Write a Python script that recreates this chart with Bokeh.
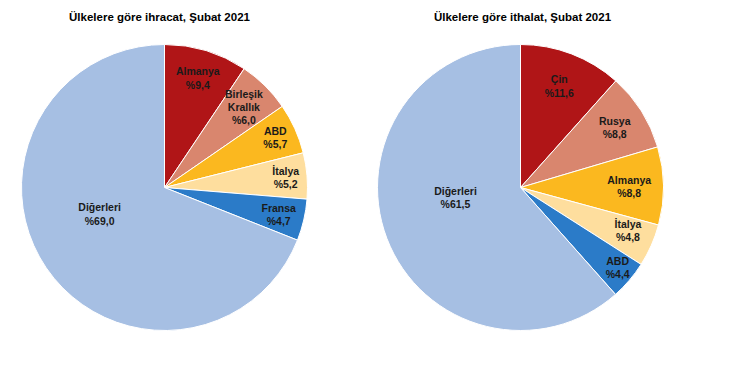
import math
from bokeh.plotting import figure
from bokeh.models import ColumnDataSource, Range1d
from bokeh.core.properties import value
from bokeh.embed import file_html
from bokeh.resources import INLINE

# ---- data ----
exp_title = "Ülkelere göre ihracat, Şubat 2021"
exp_labels = ["Almanya", "Birleşik\nKrallık", "ABD", "İtalya", "Fransa", "Diğerleri"]
exp_values = [9.4, 6.0, 5.7, 5.2, 4.7, 69.0]

imp_title = "Ülkelere göre ithalat, Şubat 2021"
imp_labels = ["Çin", "Rusya", "Almanya", "İtalya", "ABD", "Diğerleri"]
imp_values = [11.6, 8.8, 8.8, 4.8, 4.4, 61.5]

# ---- styling ----
colors = ["#B01517", "#D9866E", "#FBB81F", "#FEDE9E", "#2B7BC8", "#A6BFE3"]
W, H = 714, 350
R = 143
# label placement: radius fraction and angle shift (deg) per slice
exp_lab_r = [0.80, 0.79, 0.85, 0.85, 0.82, 0.49]
exp_lab_shift = [0, 0, 0, 0, 0, -12]
imp_lab_r = [0.76, 0.78, 0.76, 0.81, 0.88, 0.46]
imp_lab_shift = [0, 0, 0, 2, 1, -12]

p = figure(width=W, height=H, output_backend="svg", toolbar_location=None,
           x_range=Range1d(0, W), y_range=Range1d(0, H),
           x_axis_type=None, y_axis_type=None, min_border=0)
p.grid.visible = False
p.outline_line_color = None
p.background_fill_color = "white"


def fmt(v):
    return "%" + ("%.1f" % v).replace(".", ",")


def draw_pie(cx, cy, tx, title, labels, vals, lab_r, lab_shift):
    total = sum(vals)
    starts, ends, lx, ly, txt = [], [], [], [], []
    a = 90.0
    for v, lab, rf, sh in zip(vals, labels, lab_r, lab_shift):
        sweep = v / total * 360.0
        s = a
        e = a - sweep
        starts.append(math.radians(s))
        ends.append(math.radians(e))
        mid = math.radians((s + e) / 2 + sh)
        lx.append(cx + rf * R * math.cos(mid))
        ly.append(cy + rf * R * math.sin(mid))
        txt.append(lab + "\n" + fmt(v))
        a = e
    src = ColumnDataSource(dict(x=[cx] * len(vals), y=[cy] * len(vals),
                                start=starts, end=ends, color=colors,
                                lx=lx, ly=ly, txt=txt))
    p.wedge(x="x", y="y", radius=R, start_angle="start", end_angle="end",
            direction="clock", fill_color="color", line_color="white",
            line_width=1, source=src)
    p.text(x="lx", y="ly", text="txt", source=src, text_align="center",
           text_baseline="middle", text_font=value("Liberation Sans"),
           text_font_style="bold", text_font_size="10.5px",
           text_color="#1a1a1a", text_line_height=1.1)
    p.text(x=[tx], y=[H - 16], text=[title], text_align="center",
           text_baseline="middle", text_font=value("Liberation Sans"),
           text_font_style="bold", text_font_size="11.5px",
           text_color="#000000")


draw_pie(164, 163, 159, exp_title, exp_labels, exp_values, exp_lab_r, exp_lab_shift)
draw_pie(520, 163, 522, imp_title, imp_labels, imp_values, imp_lab_r, imp_lab_shift)

open("out.html", "w").write(file_html(p, INLINE))
